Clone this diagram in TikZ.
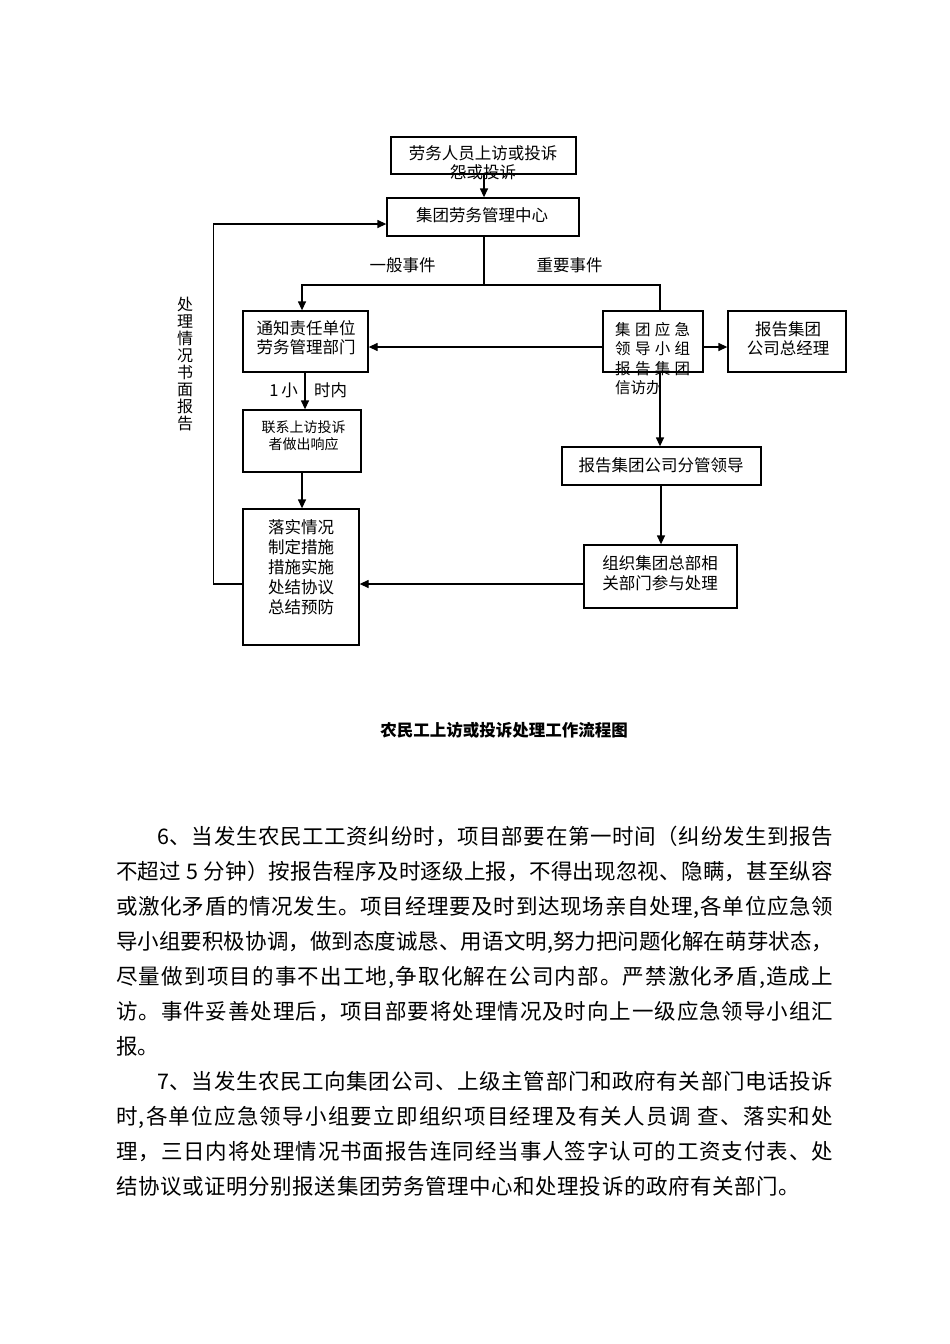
\documentclass[tikz,border=0pt]{standalone}
\usepackage{fontspec}
\setmainfont{Noto Sans CJK SC}
\usetikzlibrary{arrows.meta}
\newcommand\jl[1]{\jlfirst#1\relax}
\def\jlfirst#1{#1\jlrest}
\def\jlrest#1{\ifx#1\relax\else\hskip 0pt plus 1fil minus 0.6pt\relax #1\expandafter\jlrest\fi}
\tikzset{
  box/.style={draw, line width=1.3pt, inner sep=0pt},
  conn/.style={line width=1.3pt},
  arr/.style={conn, -{Triangle[length=9pt,width=8pt]}},
  t/.style={inner sep=0pt, align=center, font=\fontsize{16.5}{19.5}\selectfont},
  ts/.style={inner sep=0pt, align=center, font=\fontsize{14}{17}\selectfont},
  body/.style={inner sep=0pt, anchor=base west, font=\fontsize{21.5}{26}\selectfont},
}
\begin{document}
\begin{tikzpicture}[x=1pt,y=-1pt]
\path[use as bounding box, fill=white] (0,0) rectangle (950,1344);

% boxes
\node[box, minimum width=185, minimum height=37] (b1) at (483.5,155.5) {};
\node[box, minimum width=192, minimum height=38] (b2) at (483,217) {};
\node[box, minimum width=125, minimum height=61] (b3) at (305.5,341.5) {};
\node[box, minimum width=100, minimum height=61] (b4) at (653,341.5) {};
\node[box, minimum width=118, minimum height=61] (b5) at (787,341.5) {};
\node[box, minimum width=118, minimum height=62] (b6) at (302,441) {};
\node[box, minimum width=116, minimum height=136] (b7) at (301,577) {};
\node[box, minimum width=199, minimum height=38] (b8) at (661.5,466) {};
\node[box, minimum width=153, minimum height=63] (b9) at (660.5,576.5) {};

% texts
\node[t, font=\fontsize{16.5}{19}\selectfont] (tb1) at (483,162.5) {劳务人员上访或投诉\\怨或投诉};
\node[t] (tb2) at (482,215) {集团劳务管理中心};
\node[t] (tb3) at (306,337.5) {通知责任单位\\劳务管理部门};
\node[inner sep=0pt, align=left, anchor=west, font=\fontsize{15.5}{19.5}\selectfont] (tb4) at (615,358.5)
  {\makebox[75pt][s]{\jl{集团应急}}\\\makebox[75pt][s]{\jl{领导小组}}\\\makebox[75pt][s]{\jl{报告集团}}\\信访办};
\node[t] (tb5) at (788,338.5) {报告集团\\公司总经理};
\node[ts] (tb6) at (303.5,435.5) {联系上访投诉\\者做出响应};
\node[t, font=\fontsize{16.5}{20}\selectfont] (tb7) at (301,567) {落实情况\\制定措施\\措施实施\\处结协议\\总结预防};
\node[t] (tb8) at (661,465) {报告集团公司分管领导};
\node[t] (tb9) at (660,573) {组织集团总部相\\关部门参与处理};

\node[t, anchor=center] (l1) at (402.5,265) {一般事件};
\node[t, anchor=center] (l2) at (569.5,265) {重要事件};
\node[t, anchor=east] (l3) at (298,390) {1\,小};
\node[t, anchor=west] (l4) at (314,390) {时内};
\node[t, font=\fontsize{16}{16.9}\selectfont] (l5) at (185,364) {处\\理\\情\\况\\书\\面\\报\\告};

% connectors
\draw[arr] (b1.south -| 484,0) -- (b2.north -| 484,0);
\draw[conn] (b2.south -| 484,0) -- (484,285) coordinate (split);
\draw[arr] (split) -| (b3.north -| 302,0);
\draw[conn] (split) -| (b4.north -| 660,0);
\draw[arr] (b4.west |- 0,347) -- (b3.east |- 0,347);
\draw[arr] (b4.east |- 0,347) -- (b5.west |- 0,347);
\draw[arr] (b3.south -| 305,0) -- (b6.north -| 305,0);
\draw[arr] (b6.south -| 302,0) -- (b7.north -| 302,0);
\draw[arr] (b4.south -| 660,0) -- (b8.north -| 660,0);
\draw[arr] (b8.south -| 661,0) -- (b9.north -| 661,0);
\draw[arr] (b9.west |- 0,584) -- (b7.east |- 0,584);
\draw[arr] (b7.west |- 0,584) -- ++(-29,0) |- (b2.west |- 0,224);

% caption
\node[t, font=\fontsize{16.5}{19.5}\selectfont\bfseries] (cap) at (504,730) {农民工上访或投诉处理工作流程图};

% body text
\node[body] (p1) at (157,844) {\makebox[676pt][s]{\jl{6、当发生农民工工资纠纷时，项目部要在第一时间（纠纷发生到报告}}};
\node[body] (p2) at (116,879) {\makebox[717pt][s]{\jl{不超过\ 5\ 分钟）按报告程序及时逐级上报，不得出现忽视、隐瞒，甚至纵容}}};
\node[body] (p3) at (116,914) {\makebox[717pt][s]{\jl{或激化矛盾的情况发生。项目经理要及时到达现场亲自处理,各单位应急领}}};
\node[body] (p4) at (116,949) {\makebox[717pt][s]{\jl{导小组要积极协调，做到态度诚恳、用语文明,努力把问题化解在萌芽状态，}}};
\node[body] (p5) at (116,984) {\makebox[717pt][s]{\jl{尽量做到项目的事不出工地,争取化解在公司内部。严禁激化矛盾,造成上}}};
\node[body] (p6) at (116,1019) {\makebox[717pt][s]{\jl{访。事件妥善处理后，项目部要将处理情况及时向上一级应急领导小组汇}}};
\node[body] (p7) at (116,1054) {报。};
\node[body] (p8) at (157,1089) {\makebox[676pt][s]{\jl{7、当发生农民工向集团公司、上级主管部门和政府有关部门电话投诉}}};
\node[body] (p9) at (116,1124) {\makebox[717pt][s]{\jl{时,各单位应急领导小组要立即组织项目经理及有关人员调\ 查、落实和处}}};
\node[body] (p10) at (116,1159) {\makebox[717pt][s]{\jl{理，三日内将处理情况书面报告连同经当事人签字认可的工资支付表、处}}};
\node[body] (p11) at (116,1194) {\makebox[684pt][s]{\jl{结协议或证明分别报送集团劳务管理中心和处理投诉的政府有关部门。}}};
\end{tikzpicture}
\end{document}
